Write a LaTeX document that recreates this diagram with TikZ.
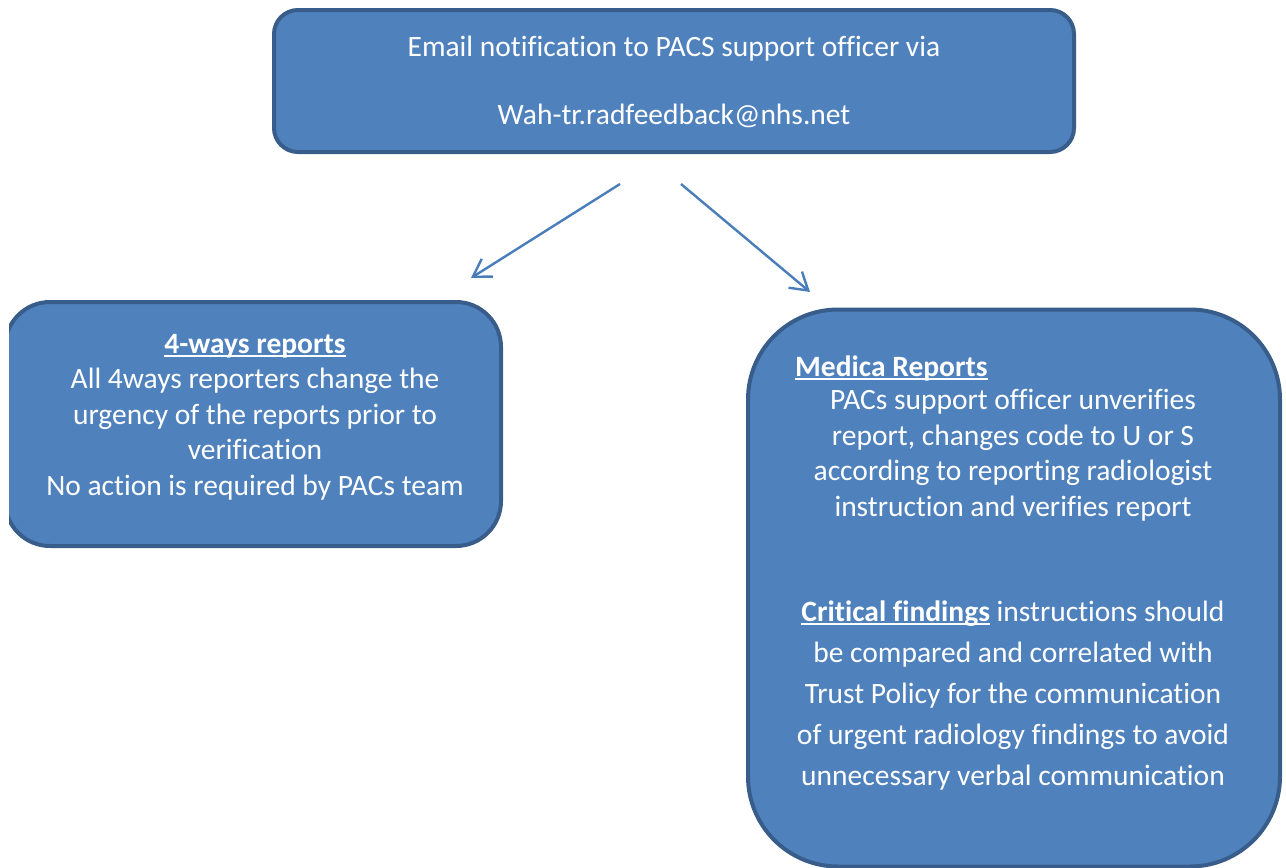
\documentclass[tikz,border=0pt]{standalone}
\usepackage{fontspec}
\setmainfont{Carlito}[Ligatures=NoCommon]
\usetikzlibrary{arrows.meta}

\definecolor{boxfill}{HTML}{4F81BD}
\definecolor{boxline}{HTML}{385D8A}
\definecolor{arrowblue}{HTML}{4A7EBB}

% underline drawn at a fixed depth below the baseline
\newcommand\ulword[1]{\setbox0=\hbox{#1}\rlap{\rule[-0.12em]{\wd0}{0.065em}}\box0}

\tikzset{
  panel/.style={draw=boxline, line width=4pt, fill=boxfill,
                rounded corners=#1, inner sep=0pt},
  panel/.default=24pt,
  % multi-line text nodes: the base anchor sits on the last line
  txt/.style={text=white, align=center, inner sep=0pt, anchor=base,
              font=\fontsize{29.5}{35.5}\selectfont},
  flow/.style={draw=arrowblue, line width=2.4pt,
               -{Straight Barb[length=17pt,width=21pt]}},
}

\begin{document}
\begin{tikzpicture}[x=1pt,y=-1pt]
\useasboundingbox (0,0) rectangle (1286,868);
\clip (0,0) rectangle (1286,868);

% top notification box
\node[panel=24pt, minimum width=800pt, minimum height=142pt] (email) at (674,81) {};
\node[txt, font=\fontsize{29.5}{68}\selectfont] (emailtxt) at (674,124)
  {Email notification to PACS support officer via\\Wah-tr.radfeedback@nhs.net};

% 4-ways reports box (cut at the left page edge)
\begin{scope}
\clip (9,0) rectangle (1286,868);
\node[panel=45pt, minimum width=496pt, minimum height=244pt] (fourways) at (253,424) {};
\end{scope}
\node[txt] (fourtxt) at (255,495)
  {\textbf{\ulword{4-ways reports}}\\
   All 4ways reporters change the\\
   urgency of the reports prior to\\
   verification\\
   No action is required by PACs team};

% Medica reports box
\node[panel=90pt, minimum width=532pt, minimum height=557pt] (medica) at (1014,588) {};
\node[txt, anchor=base west] (medicahead) at (795,376) {\textbf{\ulword{Medica Reports}}};
\node[txt] (medicatxt) at (1013,516)
  {PACs support officer unverifies\\
   report, changes code to U or S\\
   according to reporting radiologist\\
   instruction and verifies report};
\node[txt, font=\fontsize{29.5}{41}\selectfont] (critical) at (1013,785)
  {\textbf{\ulword{Critical findings}} instructions should\\
   be compared and correlated with\\
   Trust Policy for the communication\\
   of urgent radiology findings to avoid\\
   unnecessary verbal communication};

% connectors
\coordinate (fromL) at (620,184);
\coordinate (toL) at (471,278);
\coordinate (fromR) at (681,184);
\coordinate (toR) at (810,292);
\draw[flow] (fromL) -- (toL);
\draw[flow] (fromR) -- (toR);
\end{tikzpicture}
\end{document}
